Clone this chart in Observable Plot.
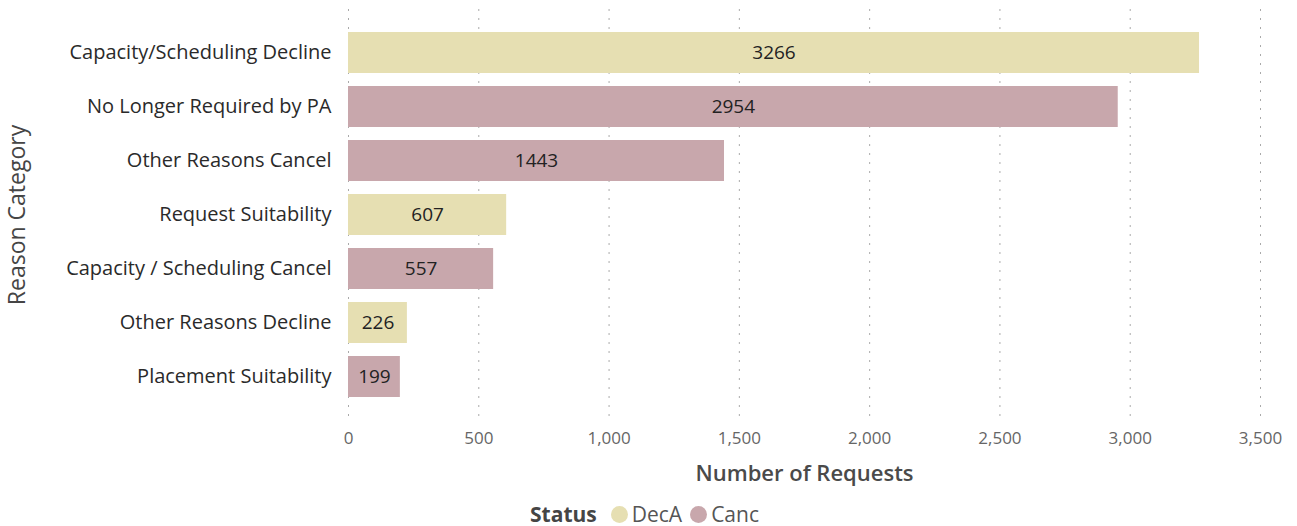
<!DOCTYPE html>
<html>
<head>
<meta charset="utf-8">
<script src="https://cdn.jsdelivr.net/npm/d3@7"></script>
<script src="https://cdn.jsdelivr.net/npm/@observablehq/plot@0.6"></script>
<style>
  body { margin: 0; background: #fff; font-family: "Open Sans", sans-serif; }
  #chart svg { display: block; overflow: visible; }
  g[aria-label="x-axis label"] text { font-size: 22px; font-weight: 600; fill: #4a4a4a; }
  g[aria-label="y-axis label"] text { font-size: 23px; fill: #454545; }
  #legend { display: flex; justify-content: center; align-items: center; font-size: 21px; color: #555; margin-left: 0px; margin-top: 9px; line-height: 30px; }
  #legend .t { font-weight: 700; color: #454545; margin-right: 14px; }
  #legend .item { display: inline-flex; align-items: center; margin-right: 8px; }
  #legend .dot { width: 17px; height: 17px; border-radius: 50%; display: inline-block; margin-right: 4px; }
</style>
</head>
<body>
<div id="chart"></div>
<div id="legend"></div>
<script>
const categories = [
  "Capacity/Scheduling Decline",
  "No Longer Required by PA",
  "Other Reasons Cancel",
  "Request Suitability",
  "Capacity / Scheduling Cancel",
  "Other Reasons Decline",
  "Placement Suitability"
];
const values = [3266, 2954, 1443, 607, 557, 226, 199];
const statuses = ["DecA", "Canc", "Canc", "DecA", "Canc", "DecA", "Canc"];
const statusDomain = ["DecA", "Canc"];
const statusColors = ["#E6DFB2", "#C8A7AC"];
const xTicks = [0, 500, 1000, 1500, 2000, 2500, 3000, 3500];

const data = categories.map((c, i) => ({category: c, value: values[i], status: statuses[i]}));

const chart = Plot.plot({
  width: 1297,
  height: 490,
  marginLeft: 348,
  marginRight: 37,
  marginTop: 9,
  marginBottom: 70,
  style: {fontFamily: "Open Sans, sans-serif", fontSize: "16px", color: "#333"},
  x: {domain: [0, 3500], label: "Number of Requests", labelArrow: "none"},
  y: {domain: categories, paddingInner: 0.24, paddingOuter: 0.42, label: "Reason Category"},
  color: {domain: statusDomain, range: statusColors},
  marks: [
    Plot.gridX(xTicks, {stroke: "#aaa", strokeOpacity: 1, strokeDasharray: "2,7"}),
    Plot.barX(data, {x: "value", y: "category", fill: "status"}),
    Plot.text(data, Plot.stackX({x: "value", y: "category", text: d => String(d.value), fill: "#222", fontSize: 19})),
    Plot.axisX({ticks: xTicks, tickSize: 0, tickPadding: 11, tickFormat: d3.format(","), fill: "#666", fontSize: 17, label: "Number of Requests", labelArrow: "none", labelAnchor: "center", labelOffset: 60}),
    Plot.axisY({tickSize: 0, tickPadding: 17, fill: "#2a2a2a", fontSize: 20, label: "Reason Category", labelAnchor: "center", labelOffset: 340})
  ]
});
document.getElementById("chart").appendChild(chart);

const legend = document.getElementById("legend");
legend.innerHTML = `<span class="t">Status</span>` + statusDomain.map((s, i) =>
  `<span class="item"><span class="dot" style="background:${statusColors[i]}"></span>${s}</span>`).join("");
</script>
</body>
</html>
